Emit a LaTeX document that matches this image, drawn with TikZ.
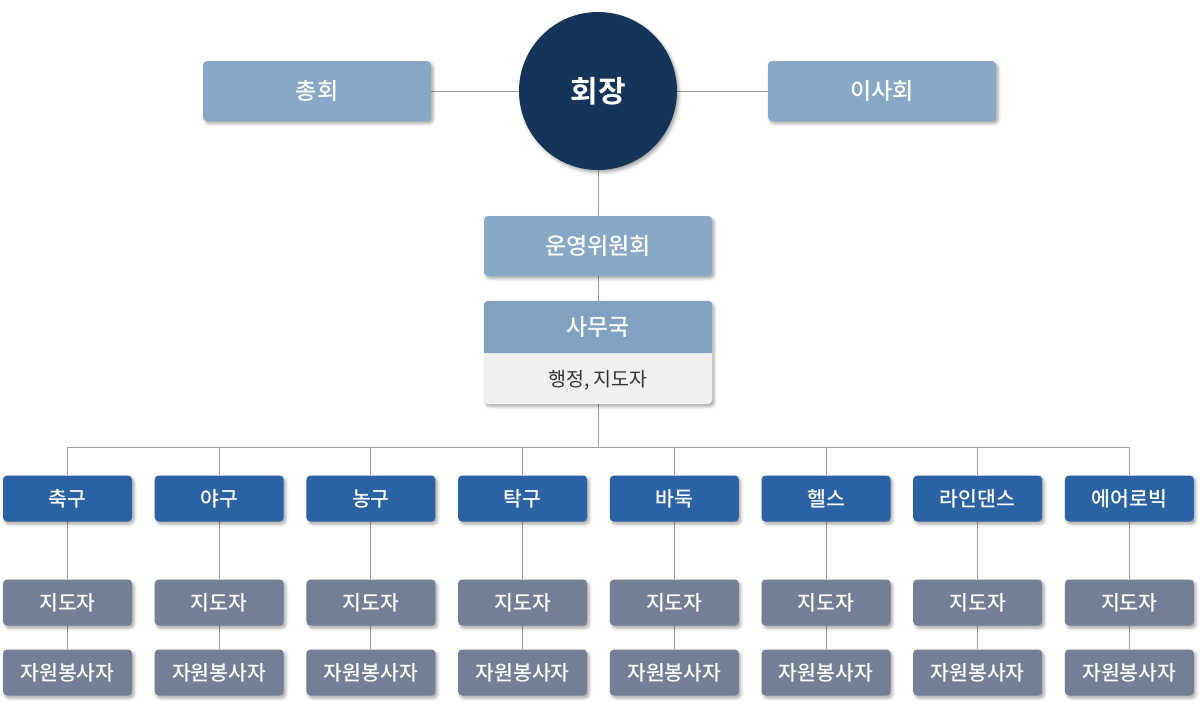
\documentclass[tikz,border=0pt]{standalone}
\usepackage{fontspec}
\setmainfont{Noto Sans CJK KR}[BoldFont={Noto Sans CJK KR Medium}]
\newfontfamily\krheavy{Noto Sans CJK KR Bold}
\usetikzlibrary{shadows.blur,backgrounds}
\definecolor{cLight}{HTML}{87A8C7}
\definecolor{cHead}{HTML}{80A1C2}
\definecolor{cDark}{HTML}{15345A}
\definecolor{cSport}{HTML}{2A62A4}
\definecolor{cGray}{HTML}{737F95}
\definecolor{cBody}{HTML}{F0F0F0}
\definecolor{cLine}{HTML}{9A9A9A}
\definecolor{cText}{HTML}{333333}
\tikzset{
  shad/.style={blur shadow={shadow xshift=2pt, shadow yshift=-2.5pt, shadow blur radius=3pt, shadow opacity=35}},
  boxbase/.style={rectangle, rounded corners=4pt, inner sep=0pt, text=white, shad},
  topbox/.style={boxbase, fill=cLight, minimum width=228pt, minimum height=60pt, font=\bfseries\fontsize{23}{27}\selectfont},
  chairc/.style={circle, fill=cDark, minimum size=158pt, inner sep=0pt, text=white, shad, font=\krheavy\fontsize{30}{34}\selectfont},
  sportbox/.style={boxbase, fill=cSport, minimum width=129pt, minimum height=46pt, font=\bfseries\fontsize{20.5}{24}\selectfont},
  graybox/.style={boxbase, fill=cGray, minimum width=129pt, minimum height=46pt, font=\bfseries\fontsize{20.5}{24}\selectfont},
  conn/.style={draw=cLine, line width=1pt},
}
\begin{document}
\begin{tikzpicture}[x=1pt,y=-1pt]
\useasboundingbox (0,0) rectangle (1200,718);
\node[chairc] (chair) at (598,91) {회장};
\node[topbox] (zh) at (317,91) {총회};
\node[topbox] (isa) at (882,91) {이사회};
\node[topbox] (woon) at (598,246) {운영위원회};
% 사무국
\node[rectangle, rounded corners=4pt, fill=cBody, minimum width=228pt, minimum height=103pt, inner sep=0pt, shad] (samu) at (598,352.5) {};
\fill[cHead, rounded corners=4pt] (samu.north west) rectangle (samu.east |- 0,353);
\fill[cHead] (samu.west |- 0,343) rectangle (samu.east |- 0,353);
\node[text=white, font=\bfseries\fontsize{23}{27}\selectfont] (samuT) at (598,327) {사무국};
\node[text=cText, font=\fontsize{19.5}{23}\selectfont] (samuB) at (598,380) {행정, 지도자};
\coordinate (bus) at (598,447);
\foreach \lab [count=\i from 0] in {축구,야구,농구,탁구,바둑,헬스,라인댄스,에어로빅}{
  \pgfmathsetmacro{\xx}{67.5+151.7*\i}
  \node[sportbox] (sp\i) at (\xx,498.5) {\lab};
  \node[graybox] (ld\i) at (\xx,602.5) {지도자};
  \node[graybox] (vol\i) at (\xx,672.5) {자원봉사자};
}
\begin{scope}[on background layer]
  \draw[conn] (zh) -- (chair);
  \draw[conn] (chair) -- (isa);
  \draw[conn] (chair) -- (woon);
  \draw[conn] (woon) -- (samu);
  \draw[conn] (samu.south) -- (bus);
  \foreach \i in {0,...,7}{
    \draw[conn] (sp\i.north) |- (bus);
    \draw[conn] (sp\i) -- (ld\i);
    \draw[conn] (ld\i) -- (vol\i);
  }
\end{scope}
\end{tikzpicture}
\end{document}
